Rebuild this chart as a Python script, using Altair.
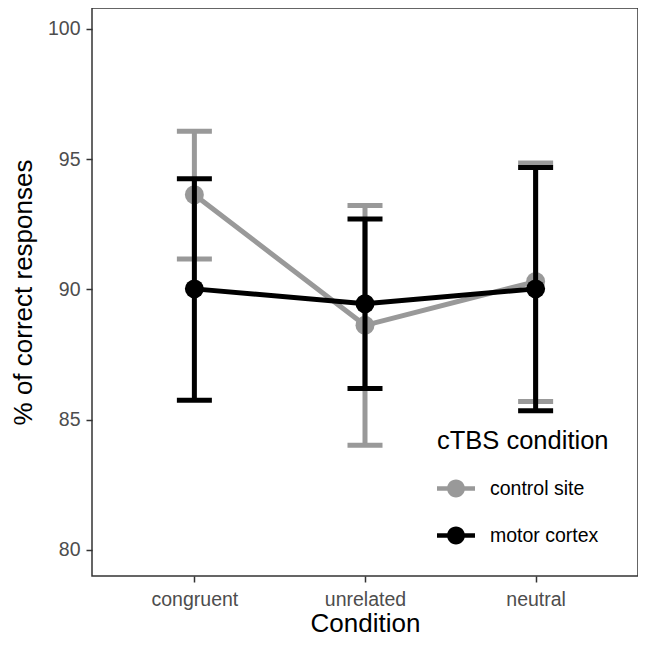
import altair as alt
import pandas as pd

conditions = ["congruent", "unrelated", "neutral"]
series = ["control site", "motor cortex"]
control_mean = [93.63, 88.62, 90.30]
control_lo = [91.17, 84.02, 85.70]
control_hi = [96.07, 93.22, 94.85]
motor_mean = [90.02, 89.45, 90.02]
motor_lo = [85.75, 86.20, 85.34]
motor_hi = [94.25, 92.70, 94.68]

rows = []
for s, m, lo, hi in [(series[0], control_mean, control_lo, control_hi),
                     (series[1], motor_mean, motor_lo, motor_hi)]:
    for c, mv, l, h in zip(conditions, m, lo, hi):
        rows.append({"Condition": c, "cTBS": s, "mean": mv, "lo": l, "hi": h})
df = pd.DataFrame(rows)

FONT = "Liberation Sans"
xenc = alt.X("Condition:N", sort=conditions,
             scale=alt.Scale(type="point", domain=conditions, padding=0.6),
             axis=alt.Axis(title="Condition", labelAngle=0))
yscale = alt.Scale(domain=[79, 100.8], nice=False, zero=False)
color_scale = alt.Scale(domain=series, range=["#999999", "#000000"])

legend = alt.Legend(
    title="cTBS condition", orient="none", legendX=345, legendY=421,
    symbolType="M-1,-0.12H1V0.12H-1Z M0.47,0 A0.47,0.47 0 1,1 -0.47,0 A0.47,0.47 0 1,1 0.47,0 Z",
    symbolSize=1444, symbolStrokeWidth=0, symbolOpacity=1,
    titleFontSize=25.5, titleFont=FONT, titleFontWeight="normal", titleColor="#000000",
    labelFontSize=19.5, labelFont=FONT, labelColor="#000000",
    rowPadding=18, titlePadding=15, labelOffset=15,
)

col = alt.Color("cTBS:N", scale=color_scale, legend=legend)

layers = []
for i, s in enumerate(series):
    base = alt.Chart(df).transform_filter(alt.datum.cTBS == s)
    rule = base.mark_rule(strokeWidth=5).encode(
        x=xenc, y=alt.Y("lo:Q", scale=yscale, title="% of correct responses",
                        axis=alt.Axis(values=[80, 85, 90, 95, 100])),
        y2="hi:Q", color=col)
    cap_lo = base.mark_tick(size=35, thickness=5, opacity=1).encode(
        x=xenc, y=alt.Y("lo:Q", scale=yscale), color=col)
    cap_hi = base.mark_tick(size=35, thickness=5, opacity=1).encode(
        x=xenc, y=alt.Y("hi:Q", scale=yscale), color=col)
    line = base.mark_line(strokeWidth=5).encode(
        x=xenc, y=alt.Y("mean:Q", scale=yscale), color=col)
    pts = base.mark_point(filled=True, size=360, opacity=1).encode(
        x=xenc, y=alt.Y("mean:Q", scale=yscale), color=col)
    layers += [rule, cap_lo, cap_hi, line, pts]

chart = alt.layer(*layers).properties(
    width=546, height=568,
    background="white",
    autosize=alt.AutoSizeParams(type="none"),
    padding={"left": 84, "top": 0, "right": 0, "bottom": 62},
).configure_view(
    stroke="#333333", strokeWidth=1.5
).configure_axis(
    grid=False, domain=False,
    tickColor="#333333", tickWidth=1.5, tickSize=6,
    labelFont=FONT, labelFontSize=19.5, labelColor="#4D4D4D", labelPadding=6,
    titleFont=FONT, titleFontSize=26, titleFontWeight="normal", titleColor="#000000",
).configure_axisX(
    titlePadding=2, labelPadding=8
).configure_axisY(
    titlePadding=11
)

chart.save("out.html", embed_options={"renderer": "svg", "actions": False})
